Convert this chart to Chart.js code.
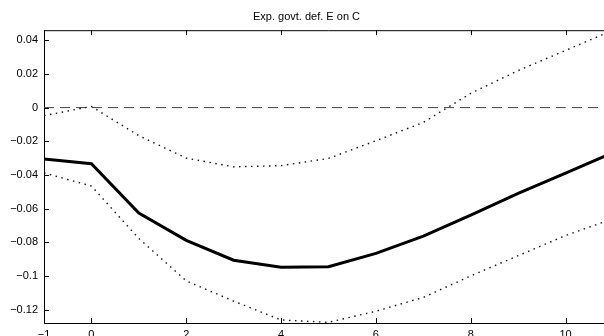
<!DOCTYPE html>
<html>
<head>
<meta charset="utf-8">
<script src="https://cdn.jsdelivr.net/npm/chart.js@4/dist/chart.umd.min.js"></script>
<style>
  html, body { margin: 0; padding: 0; background: #fff; overflow: hidden; }
  #wrap { width: 604px; height: 336px; overflow: hidden; position: relative; }
  canvas { position: absolute; left: 0; top: 0; }
</style>
</head>
<body>
<div id="wrap"><canvas id="chart" width="614" height="346"></canvas></div>
<script>
// Данные графика
const horizon = [-1, 0, 1, 2, 3, 4, 5, 6, 7, 8, 9, 10, 11];
const response = [-0.0306, -0.0333, -0.0626, -0.0789, -0.0907, -0.0949, -0.0946, -0.0866, -0.0764, -0.0639, -0.0510, -0.0390, -0.0268];
const upperBand = [-0.0048, 0.0007, -0.0167, -0.0300, -0.0352, -0.0345, -0.0302, -0.0197, -0.0088, 0.0085, 0.0220, 0.0340, 0.0460];
const lowerBand = [-0.0388, -0.0466, -0.0778, -0.1030, -0.1150, -0.1262, -0.1276, -0.1210, -0.1128, -0.1000, -0.0880, -0.0760, -0.0660];
const zeroLine = [0, 0, 0, 0, 0, 0, 0, 0, 0, 0, 0, 0, 0];

const xTickVals = [-1, 0, 2, 4, 6, 8, 10];
const xTickLabels = ['\u22121', '0', '2', '4', '6', '8', '10'];
const yTickVals = [-0.12, -0.1, -0.08, -0.06, -0.04, -0.02, 0, 0.02, 0.04];
const yTickLabels = ['\u22120.12', '\u22120.1', '\u22120.08', '\u22120.06', '\u22120.04', '\u22120.02', '0', '0.02', '0.04'];

const FONT = 'Liberation Sans, Arial, Helvetica, sans-serif';

function toPoints(ys) {
  return horizon.map((x, i) => ({ x: x, y: ys[i] }));
}

// Рамка сверху и засечки внутрь (как в MATLAB)
const innerTicks = {
  id: 'innerTicks',
  afterDatasetsDraw(chart) {
    const { ctx, chartArea: a, scales } = chart;
    const len = 5;
    ctx.save();
    ctx.strokeStyle = '#000';
    ctx.lineWidth = 1;
    ctx.beginPath();
    ctx.moveTo(a.left, a.top + 0.5);
    ctx.lineTo(a.right, a.top + 0.5);
    xTickVals.forEach(v => {
      const px = Math.round(scales.x.getPixelForValue(v)) + 0.5;
      ctx.moveTo(px, a.bottom);
      ctx.lineTo(px, a.bottom - len);
      ctx.moveTo(px, a.top);
      ctx.lineTo(px, a.top + len);
    });
    yTickVals.forEach(v => {
      const py = Math.round(scales.y.getPixelForValue(v)) + 0.5;
      ctx.moveTo(a.left, py);
      ctx.lineTo(a.left + len, py);
    });
    ctx.stroke();
    ctx.restore();
  }
};

new Chart(document.getElementById('chart'), {
  type: 'line',
  data: {
    datasets: [
      {
        data: toPoints(response),
        borderColor: '#000',
        borderWidth: 3,
        pointRadius: 0,
        order: 0
      },
      {
        data: toPoints(upperBand),
        borderColor: '#111',
        borderWidth: 1.4,
        borderDash: [1.5, 4.5],
        pointRadius: 0,
        order: 1
      },
      {
        data: toPoints(lowerBand),
        borderColor: '#111',
        borderWidth: 1.4,
        borderDash: [1.5, 4.5],
        pointRadius: 0,
        order: 1
      },
      {
        data: toPoints(zeroLine),
        borderColor: '#444',
        borderWidth: 1,
        borderDash: [10, 6],
        pointRadius: 0,
        order: 2
      }
    ]
  },
  options: {
    responsive: false,
    animation: false,
    layout: { padding: { left: 0, right: 1, top: 0, bottom: 0 } },
    plugins: {
      legend: { display: false },
      tooltip: { enabled: false },
      title: {
        display: true,
        text: 'Exp. govt. def. E on C',
        color: '#000',
        font: { family: FONT, size: 11, weight: 'normal' },
        padding: { top: 10, bottom: 7 }
      }
    },
    scales: {
      x: {
        type: 'linear',
        min: -1,
        max: 11,
        grid: { display: false, drawTicks: false, tickLength: 0 },
        border: { display: true, color: '#000', width: 1 },
        afterBuildTicks: s => { s.ticks = xTickVals.map(v => ({ value: v })); },
        afterFit: s => { s.height = 23; },
        ticks: {
          color: '#000',
          padding: 5,
          maxRotation: 0,
          autoSkip: false,
          font: { family: FONT, size: 11 },
          callback: (v, i) => xTickLabels[i]
        }
      },
      y: {
        min: -0.128,
        max: 0.046,
        grid: { display: false, drawTicks: false, tickLength: 0 },
        border: { display: true, color: '#000', width: 1 },
        afterBuildTicks: s => { s.ticks = yTickVals.map(v => ({ value: v })); },
        afterFit: s => { s.width = 44; },
        ticks: {
          color: '#000',
          padding: 6,
          autoSkip: false,
          font: { family: FONT, size: 11 },
          callback: (v, i) => yTickLabels[i]
        }
      }
    }
  },
  plugins: [innerTicks]
});
</script>
</body>
</html>
